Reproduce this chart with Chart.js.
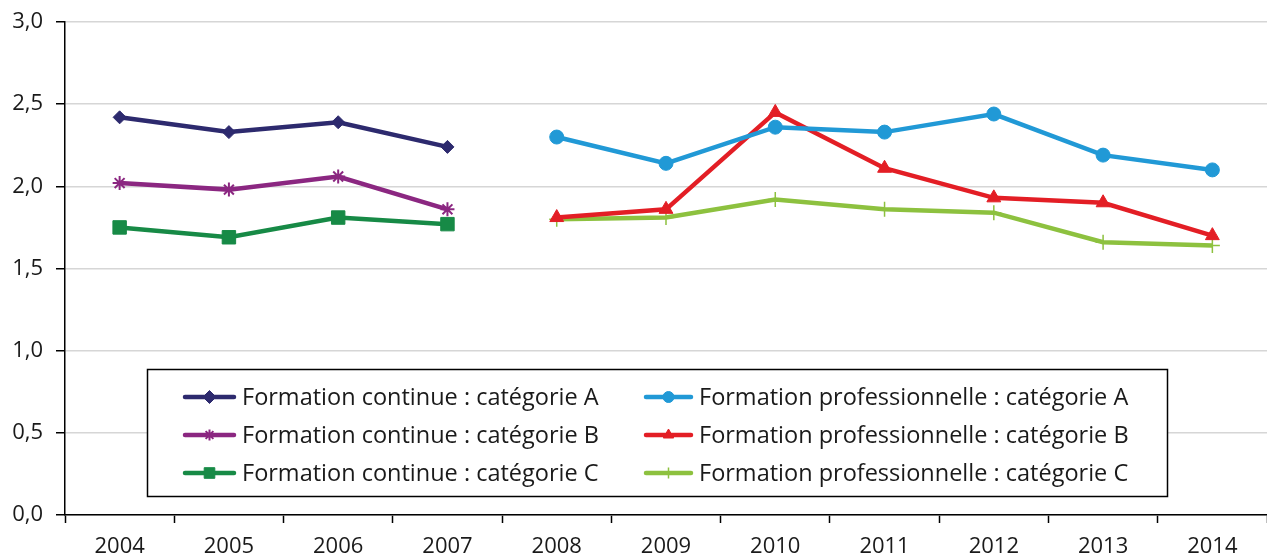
<!DOCTYPE html>
<html lang="fr">
<head>
<meta charset="utf-8">
<title>Formation continue et professionnelle</title>
<script src="https://cdn.jsdelivr.net/npm/chart.js@4/dist/chart.umd.min.js"></script>
<style>
  html, body { margin: 0; padding: 0; background: #fff; }
  #wrap { width: 1267px; height: 558px; }
</style>
</head>
<body>
<div id="wrap"><canvas id="chart" width="1267" height="558"></canvas></div>
<script>
const years = ['2004', '2005', '2006', '2007', '2008', '2009', '2010', '2011', '2012', '2013', '2014'];

// formation continue : 2004-2007 only
const contA = [2.42, 2.33, 2.39, 2.24, null, null, null, null, null, null, null];
const contB = [2.02, 1.98, 2.06, 1.86, null, null, null, null, null, null, null];
const contC = [1.75, 1.69, 1.81, 1.77, null, null, null, null, null, null, null];

// formation professionnelle : 2008-2014 only
const proA = [null, null, null, null, 2.30, 2.14, 2.36, 2.33, 2.44, 2.19, 2.10];
const proB = [null, null, null, null, 1.81, 1.86, 2.45, 2.11, 1.93, 1.90, 1.70];
const proC = [null, null, null, null, 1.80, 1.81, 1.92, 1.86, 1.84, 1.66, 1.64];

const yTicks = [0, 0.5, 1, 1.5, 2, 2.5, 3];

const FONT = '"Open Sans", "Noto Sans", sans-serif';
const TEXT = '#1a1a1a';

function series(label, data, color, style, radius, bw, legendRadius) {
  return {
    label: label,
    data: data,
    borderColor: color,
    backgroundColor: color,
    borderWidth: 4.5,
    pointStyle: style,
    pointRadius: radius,
    pointHoverRadius: radius,
    pointBorderWidth: bw,
    pointBorderColor: color,
    pointBackgroundColor: color,
    legendRadius: legendRadius,
    spanGaps: false,
    tension: 0,
  };
}

const datasets = [
  series('Formation continue : catégorie A', contA, '#2d2a6e', 'rectRot', 6.5, 1, 6.5),
  series('Formation continue : catégorie B', contB, '#8b2781', 'star', 7, 2, 5.5),
  series('Formation continue : catégorie C', contC, '#178a46', 'rect', 9.5, 1, 7.5),
  series('Formation professionnelle : catégorie A', proA, '#2199d6', 'circle', 7, 1, 5.5),
  series('Formation professionnelle : catégorie B', proB, '#e31e25', 'triangle', 8, 1, 6),
  series('Formation professionnelle : catégorie C', proC, '#8dc13f', 'cross', 7.5, 1.5, 5.5),
];

// legend box drawn inside the plot, two columns of three rows
const boxLegend = {
  id: 'boxLegend',
  afterDatasetsDraw(chart) {
    const ctx = chart.ctx;
    const box = { x: 147.5, y: 369.5, w: 1020, h: 127 };
    ctx.save();
    ctx.fillStyle = '#fff';
    ctx.fillRect(box.x, box.y, box.w, box.h);
    ctx.strokeStyle = '#000';
    ctx.lineWidth = 1.5;
    ctx.strokeRect(box.x, box.y, box.w, box.h);

    const cols = [{ x0: 185, x1: 234, tx: 242 }, { x0: 646, x1: 691, tx: 699 }];
    const rows = [397, 435, 473];
    ctx.font = '23.5px ' + FONT;
    ctx.textBaseline = 'middle';
    ctx.textAlign = 'left';
    chart.data.datasets.forEach((ds, i) => {
      const c = cols[Math.floor(i / 3)];
      const y = rows[i % 3];
      ctx.strokeStyle = ds.borderColor;
      ctx.lineWidth = 4.5;
      ctx.lineCap = 'round';
      ctx.beginPath();
      ctx.moveTo(c.x0, y);
      ctx.lineTo(c.x1, y);
      ctx.stroke();
      ctx.lineCap = 'butt';
      ctx.fillStyle = ds.pointBackgroundColor;
      ctx.strokeStyle = ds.pointBorderColor;
      ctx.lineWidth = ds.pointBorderWidth;
      Chart.helpers.drawPoint(ctx, {
        pointStyle: ds.pointStyle,
        radius: ds.legendRadius,
        rotation: 0,
        borderWidth: ds.pointBorderWidth,
      }, (c.x0 + c.x1) / 2, y);
      ctx.fillStyle = TEXT;
      ctx.fillText(ds.label, c.tx, y + 1);
    });
    ctx.restore();
  },
};

const ctx = document.getElementById('chart').getContext('2d');
new Chart(ctx, {
  type: 'line',
  data: { labels: years, datasets: datasets },
  options: {
    responsive: false,
    animation: false,
    events: [],
    layout: { autoPadding: false, padding: { top: 22, right: 0, bottom: 0, left: 0 } },
    plugins: { legend: { display: false }, tooltip: { enabled: false } },
    scales: {
      x: {
        type: 'category',
        offset: true,
        afterFit: (s) => { s.height = 43; s.paddingLeft = 0; s.paddingRight = 0; },
        grid: {
          offset: true,
          drawOnChartArea: false,
          drawTicks: true,
          tickLength: 8,
          tickColor: '#000',
          tickWidth: 1.5,
        },
        border: { display: true, color: '#000', width: 1.5 },
        ticks: { color: TEXT, font: { family: FONT, size: 22 }, padding: 11, maxRotation: 0 },
      },
      y: {
        min: 0,
        max: 3,
        afterFit: (s) => { s.width = 65; s.paddingTop = 0; s.paddingBottom = 0; },
        afterBuildTicks: (s) => { s.ticks = yTicks.map((v) => ({ value: v })); },
        grid: {
          color: '#d6d6d6',
          lineWidth: 1.5,
          drawTicks: true,
          tickLength: 9,
          tickColor: '#000',
          tickWidth: 1.5,
        },
        border: { display: true, color: '#000', width: 1.5 },
        ticks: {
          color: TEXT,
          font: { family: FONT, size: 22 },
          padding: 13,
          callback: (v) => Number(v).toFixed(1).replace('.', ','),
        },
      },
    },
  },
  plugins: [boxLegend],
});
</script>
</body>
</html>
